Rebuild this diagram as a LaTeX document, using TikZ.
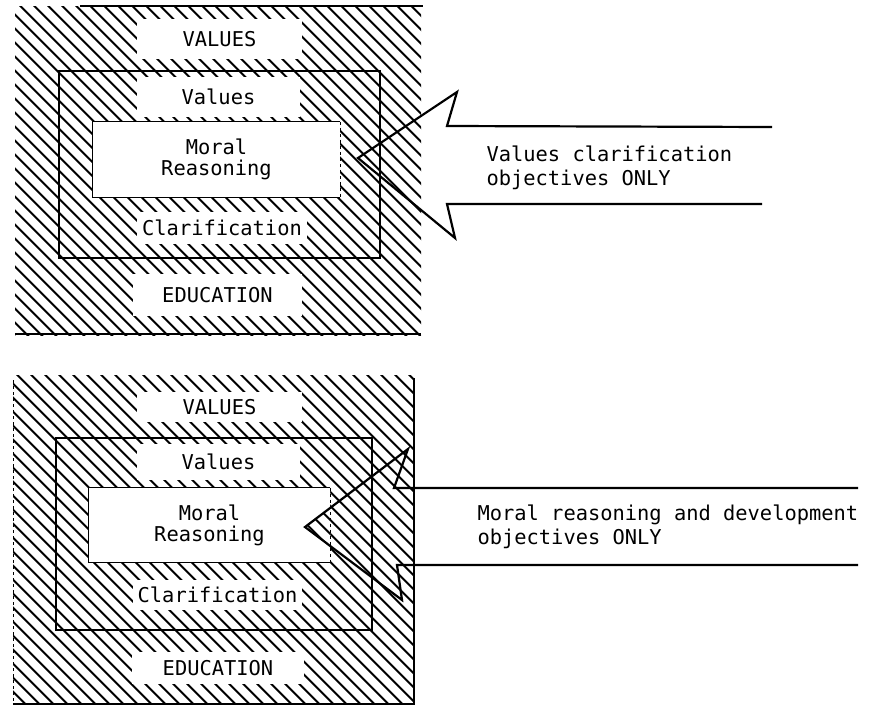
\documentclass[tikz,border=0pt]{standalone}
\usepackage{fontspec}
\setmonofont{DejaVu Sans Mono}
\usetikzlibrary{patterns.meta}

\tikzset{
  hatch/.style={pattern={Lines[angle=-45,distance=10.5pt,line width=2.2pt]}},
  gap/.style={fill=white,inner sep=0pt},
  frame/.style={line width=2.6pt},
  callout/.style={line width=2.2pt,line join=miter},
  note/.style={anchor=west,align=left,font=\ttfamily\fontsize{20.4}{24.5}\selectfont}
}

\begin{document}
\begin{tikzpicture}[x=1pt,y=-1pt,font=\ttfamily\fontsize{20.4}{21}\selectfont]

        \useasboundingbox (0,0) rectangle (870,707);

        \fill[hatch] (15,6) rectangle (421,335);
        \draw[line width=1.2pt] (80,6) -- (423,6);
        \draw[line width=1.5pt] (15,334) -- (421,334);
        \draw[frame] (59,71) rectangle (380,258);

        \begin{scope}[every node/.style={gap}]
          \node[minimum width=165pt,minimum height=40pt] (VAL1) at (219.5,39) {VALUES};
          \node[minimum width=163pt,minimum height=40pt] (val1) at (218.5,97) {Values};
          \node[minimum width=170pt,minimum height=32pt] (cla1) at (222,228) {Clarification};
          \node[minimum width=169pt,minimum height=42pt] (EDU1) at (217.5,295) {EDUCATION};
          \node[minimum width=247pt,minimum height=75pt,align=center] (mr1) at (216.5,159.5) {Moral\\Reasoning};
        \end{scope}

        \draw[line width=1pt] (mr1.north east) -- (mr1.north west) -- (mr1.south west) -- (mr1.south east);
        \draw[dashed,line width=0.6pt] (mr1.north east) -- (mr1.south east);

        \coordinate (tip1) at (358,158);
        \coordinate (ub1)  at (457,92);
        \coordinate (uc1)  at (447,126);
        \coordinate (ue1)  at (772,127);
        \coordinate (lc1)  at (447,204);
        \coordinate (lb1)  at (455,238);
        \coordinate (le1)  at (762,204);
        \draw[callout] (ue1) -- (uc1) -- (ub1) -- (tip1) -- (lb1) -- (lc1) -- (le1);

        \node[note] (obj1) at (483,168) {Values clarification\\objectives ONLY};

        \fill[hatch] (13,375) rectangle (414,704);
        \draw[dashed,line width=0.8pt] (13,380) -- (13,704);
        \draw[line width=1.8pt] (13,704) -- (414,704) -- (414,378);
        \draw[frame] (56,438) rectangle (372,630);

        \fill[white,even odd rule] (89,488) rectangle (330,562)
          (305,527) -- (330,508) -- (330,546) -- cycle;

        \begin{scope}[every node/.style={gap}]
          \node[minimum width=165pt,minimum height=30pt] (VAL2) at (219.5,407) {VALUES};
          \node[minimum width=163pt,minimum height=36pt] (val2) at (218.5,462) {Values};
          \node[minimum width=169pt,minimum height=30pt] (cla2) at (217.5,595) {Clarification};
          \node[minimum width=172pt,minimum height=32pt] (EDU2) at (218,668) {EDUCATION};
          \node[fill=none,minimum width=241pt,minimum height=74pt,align=center] (mr2) at (209.5,525) {Moral\\Reasoning};
        \end{scope}

        \draw[line width=1.2pt] (mr2.north east) -- (mr2.north west) -- (mr2.south west) -- (mr2.south east);

        \coordinate (tip2) at (305,527);
        \coordinate (ub2)  at (408,449);
        \coordinate (uc2)  at (394,488);
        \coordinate (ue2)  at (858,488);
        \coordinate (lc2)  at (397,565);
        \coordinate (lb2)  at (402,600);
        \coordinate (le2)  at (858,565);
        \draw[dashed,line width=0.6pt] (mr2.north east) -- (mr2.south east);
        \draw[callout] (ue2) -- (uc2) -- (ub2) -- (tip2) -- (lb2) -- (lc2) -- (le2);

        \node[note] (obj2) at (474,527) {Moral reasoning and development\\objectives ONLY};

      \end{tikzpicture}
\end{document}
